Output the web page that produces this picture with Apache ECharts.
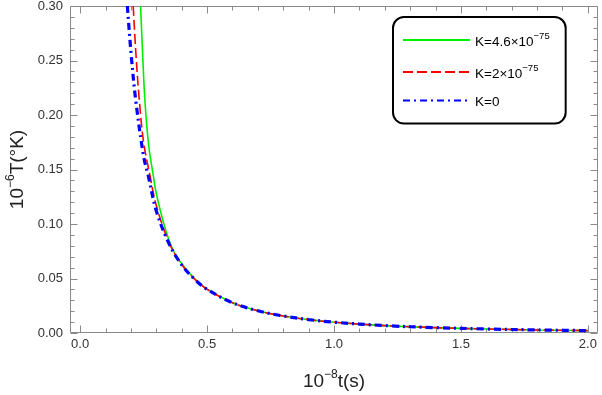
<!DOCTYPE html>
<html>
<head>
<meta charset="utf-8">
<script src="https://cdn.jsdelivr.net/npm/echarts@6/dist/echarts.min.js"></script>
<style>
html,body{margin:0;padding:0;background:#fff;}
#chart{width:602px;height:395px;}
</style>
</head>
<body>
<div id="chart"></div>
<script>
// ---- data ----
const tK46 = [0.238, 0.245, 0.255, 0.27, 0.288, 0.30, 0.33, 0.363, 0.40, 0.45, 0.50, 0.60, 0.70, 0.80, 0.90, 1.00, 1.20, 1.40, 1.60, 1.80, 2.00];
const TK46 = [0.300, 0.262, 0.2135, 0.172, 0.1445, 0.128, 0.100, 0.0775, 0.0635, 0.0500, 0.0402, 0.0278, 0.0204, 0.0156, 0.0123, 0.0099, 0.0068, 0.0049, 0.0037, 0.0028, 0.0022];
const tK2 = [0.209, 0.22, 0.233, 0.25, 0.275, 0.30, 0.35, 0.40, 0.45, 0.50, 0.60, 0.70, 0.80, 0.90, 1.00, 1.20, 1.40, 1.60, 1.80, 2.00];
const TK2 = [0.300, 0.255, 0.2135, 0.175, 0.1445, 0.117, 0.083, 0.0628, 0.0497, 0.0401, 0.0278, 0.0204, 0.0156, 0.0123, 0.0099, 0.0068, 0.0049, 0.0037, 0.0028, 0.0022];
const tK0 = [0.186, 0.20, 0.219, 0.25, 0.268, 0.30, 0.35, 0.40, 0.45, 0.50, 0.60, 0.70, 0.80, 0.90, 1.00, 1.20, 1.40, 1.60, 1.80, 2.00];
const TK0 = [0.300, 0.258, 0.2135, 0.162, 0.1445, 0.112, 0.082, 0.0625, 0.0495, 0.0400, 0.0278, 0.0204, 0.0156, 0.0123, 0.0099, 0.0068, 0.0049, 0.0037, 0.0028, 0.0022];

const seriesNames = ['K=4.6×10^−75', 'K=2×10^−75', 'K=0'];
const xMajor = [0, 0.5, 1.0, 1.5, 2.0];
const xMinor = [0.1,0.2,0.3,0.4,0.6,0.7,0.8,0.9,1.1,1.2,1.3,1.4,1.6,1.7,1.8,1.9];
const yMajor = [0, 0.05, 0.10, 0.15, 0.20, 0.25, 0.30];
const yMinor = [0.01,0.02,0.03,0.04,0.06,0.07,0.08,0.09,0.11,0.12,0.13,0.14,0.16,0.17,0.18,0.19,0.21,0.22,0.23,0.24,0.26,0.27,0.28,0.29];
const xRange = [-0.04, 2.04];
const yRange = [0, 0.3];

const zip = (a, b) => a.map((v, i) => [v, b[i]]);
const FONT = '"Liberation Sans", Arial, sans-serif';
const AX = '#8a8a8a';

const titleRich = {
  b: { fontSize: 19, fontFamily: FONT, color: '#222', lineHeight: 22, verticalAlign: 'bottom' },
  s: { fontSize: 12, fontFamily: FONT, color: '#222', lineHeight: 22, verticalAlign: 'top' }
};

const chart = echarts.init(document.getElementById('chart'), null, { renderer: 'canvas' });
chart.setOption({
  animation: false,
  backgroundColor: '#fff',
  grid: { left: 70, right: 4, top: 6, bottom: 62, show: false, containLabel: false, outerBoundsMode: 'none' },
  xAxis: {
    type: 'value', min: xRange[0], max: xRange[1],
    axisLine: { show: false, onZero: false }, axisTick: { show: false }, splitLine: { show: false },
    axisLabel: { show: true, customValues: xMajor, formatter: v => v.toFixed(1), margin: 5, color: '#333', fontSize: 13, fontFamily: FONT },
    name: '{b|10}{s|−8}{b|t(s)}', nameLocation: 'middle', nameGap: 36, nameTextStyle: { rich: titleRich }
  },
  yAxis: {
    type: 'value', min: yRange[0], max: yRange[1],
    axisLine: { show: false, onZero: false }, axisTick: { show: false }, splitLine: { show: false },
    axisLabel: { show: true, customValues: yMajor, formatter: v => v.toFixed(2), margin: 7, color: '#333', fontSize: 13, fontFamily: FONT },
    name: '{b|10}{s|−6}{b|T(°K)}', nameLocation: 'middle', nameGap: 36, nameRotate: 90, nameTextStyle: { rich: titleRich }
  },
  legend: {
    orient: 'vertical', left: 393, top: 17,
    padding: [14, 16, 14, 9],
    itemWidth: 67, itemHeight: 14, itemGap: 14,
    borderColor: '#000', borderWidth: 2, borderRadius: 11, backgroundColor: '#fff',
    itemStyle: { opacity: 0 },
    data: seriesNames,
    formatter: function (name) {
      const p = name.split('^');
      return '{b|' + p[0] + '}' + (p[1] ? '{s|' + p[1] + '}' : '');
    },
    textStyle: {
      rich: {
        b: { fontSize: 13.5, fontFamily: FONT, color: '#000', lineHeight: 18, verticalAlign: 'bottom' },
        s: { fontSize: 9.5, fontFamily: FONT, color: '#000', lineHeight: 18, verticalAlign: 'top' }
      }
    }
  },
  series: [
    { name: seriesNames[0], type: 'line', data: zip(tK46, TK46), smooth: 0.35, showSymbol: false, symbol: 'none', clip: true,
      lineStyle: { color: '#00ee00', width: 1.6, type: 'solid' }, itemStyle: { color: '#00ee00' }, z: 2 },
    { name: seriesNames[1], type: 'line', data: zip(tK2, TK2), smooth: 0.35, showSymbol: false, symbol: 'none', clip: true,
      lineStyle: { color: '#ff0000', width: 1.6, type: [10, 4] }, itemStyle: { color: '#ff0000' }, z: 3 },
    { name: seriesNames[2], type: 'line', data: zip(tK0, TK0), smooth: 0.35, showSymbol: false, symbol: 'none', clip: true,
      lineStyle: { color: '#0000ff', width: 3.2, type: [7, 4, 2, 4] }, itemStyle: { color: '#0000ff' }, z: 4 }
  ]
});

// frame and inward ticks, positioned through the chart's own scales
const px = v => chart.convertToPixel({ xAxisIndex: 0 }, v);
const py = v => chart.convertToPixel({ yAxisIndex: 0 }, v);
const L = Math.round(px(xRange[0])) + 0.5, R = Math.round(px(xRange[1])) - 0.5;
const T = Math.round(py(yRange[1])) + 0.5, B = Math.round(py(yRange[0])) - 0.5;
const stroke = { stroke: AX, lineWidth: 1 };
const els = [{ type: 'rect', silent: true, z: 1, shape: { x: L, y: T, width: R - L, height: B - T }, style: { fill: null, stroke: AX, lineWidth: 1 } }];
function tickX(v, len) {
  const x = Math.round(px(v)) + 0.5;
  els.push({ type: 'line', silent: true, z: 1, shape: { x1: x, y1: B, x2: x, y2: B - len }, style: stroke });
  els.push({ type: 'line', silent: true, z: 1, shape: { x1: x, y1: T, x2: x, y2: T + len }, style: stroke });
}
function tickY(v, len) {
  const y = Math.round(py(v)) + 0.5;
  els.push({ type: 'line', silent: true, z: 1, shape: { x1: L, y1: y, x2: L + len, y2: y }, style: stroke });
  els.push({ type: 'line', silent: true, z: 1, shape: { x1: R, y1: y, x2: R - len, y2: y }, style: stroke });
}
xMajor.forEach(v => tickX(v, 7));
xMinor.forEach(v => tickX(v, 4));
yMajor.forEach(v => tickY(v, 7));
yMinor.forEach(v => tickY(v, 4));
chart.setOption({ graphic: { elements: els } });
</script>
</body>
</html>
